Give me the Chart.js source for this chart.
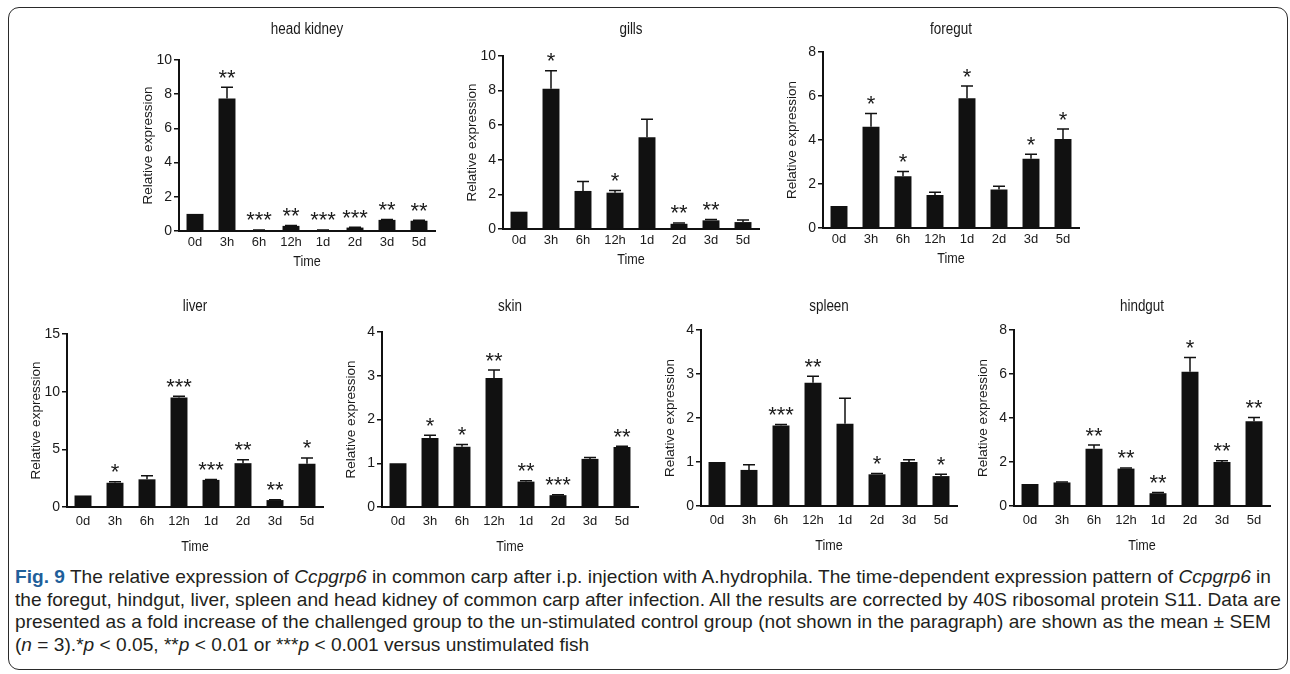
<!DOCTYPE html>
<html>
<head>
<meta charset="utf-8">
<script src="https://cdn.jsdelivr.net/npm/chart.js@4.4.1/dist/chart.umd.min.js"></script>
<style>
body{margin:0;background:#fff;width:1290px;height:674px;overflow:hidden;position:relative;font-family:"Liberation Sans",Arial,sans-serif}
#frame{position:absolute;left:8px;top:7px;width:1280px;height:663px;border:1.5px solid #2a2a2a;border-radius:11px;box-sizing:border-box}
.panel{position:absolute}
#cap{position:absolute;left:15px;top:566px;color:#231f20;font-size:19px;line-height:22.6px}
.ln{height:22.6px}
.ln span{display:inline-block;white-space:nowrap;transform-origin:0 0}
.fig{color:#1f5f9a;font-weight:bold}
</style>
</head>
<body>
<div id="frame"></div>

<div class="panel" id="p0"><canvas></canvas></div>
<div class="panel" id="p1"><canvas></canvas></div>
<div class="panel" id="p2"><canvas></canvas></div>
<div class="panel" id="p3"><canvas></canvas></div>
<div class="panel" id="p4"><canvas></canvas></div>
<div class="panel" id="p5"><canvas></canvas></div>
<div class="panel" id="p6"><canvas></canvas></div>

<div id="cap">
<div class="ln"><span><span class="fig">Fig. 9</span> The relative expression of <i>Ccpgrp6</i> in common carp after i.p. injection with A.hydrophila. The time-dependent expression pattern of <i>Ccpgrp6</i> in</span></div>
<div class="ln"><span>the foregut, hindgut, liver, spleen and head kidney of common carp after infection. All the results are corrected by 40S ribosomal protein S11. Data are</span></div>
<div class="ln"><span>presented as a fold increase of the challenged group to the un-stimulated control group (not shown in the paragraph) are shown as the mean ± SEM</span></div>
<div class="ln"><span>(<i>n</i> = 3).*<i>p</i> &lt; 0.05, **<i>p</i> &lt; 0.01 or ***<i>p</i> &lt; 0.001 versus unstimulated fish</span></div>
</div>

<script>
// time points (x categories)
const times = ['0d', '3h', '6h', '12h', '1d', '2d', '3d', '5d']

// head kidney
const headKidneyMean = [1.0, 7.75, 0.05, 0.3, 0.05, 0.2, 0.65, 0.6]
const headKidneySem  = [0, 0.65, 0.01, 0.02, 0.01, 0.02, 0.02, 0.03]
const headKidneySig  = ['', '**', '***', '**', '***', '***', '**', '**']

// gills
const gillsMean = [1.0, 8.1, 2.2, 2.1, 5.3, 0.3, 0.5, 0.4]
const gillsSem  = [0, 1.05, 0.55, 0.12, 1.05, 0.05, 0.05, 0.12]
const gillsSig  = ['', '*', '', '*', '', '**', '**', '']

// foregut
const foregutMean = [1.0, 4.6, 2.35, 1.5, 5.9, 1.75, 3.15, 4.05]
const foregutSem  = [0, 0.6, 0.22, 0.12, 0.55, 0.15, 0.2, 0.45]
const foregutSig  = ['', '*', '*', '', '*', '', '*', '*']

// liver
const liverMean = [1.0, 2.1, 2.4, 9.5, 2.35, 3.8, 0.6, 3.75]
const liverSem  = [0, 0.1, 0.3, 0.1, 0.03, 0.3, 0.03, 0.5]
const liverSig  = ['', '*', '', '***', '***', '**', '**', '*']

// skin
const skinMean = [1.0, 1.58, 1.38, 2.95, 0.58, 0.27, 1.1, 1.37]
const skinSem  = [0, 0.06, 0.05, 0.18, 0.02, 0.01, 0.03, 0.02]
const skinSig  = ['', '*', '*', '**', '**', '***', '', '**']

// spleen
const spleenMean = [1.0, 0.82, 1.83, 2.8, 1.87, 0.72, 1.0, 0.68]
const spleenSem  = [0, 0.12, 0.02, 0.15, 0.58, 0.02, 0.05, 0.04]
const spleenSig  = ['', '', '***', '**', '', '*', '', '*']

// hindgut
const hindgutMean = [1.0, 1.07, 2.6, 1.7, 0.58, 6.1, 2.0, 3.85]
const hindgutSem  = [0, 0.02, 0.17, 0.03, 0.03, 0.65, 0.06, 0.17]
const hindgutSig  = ['', '', '**', '**', '**', '*', '**', '**']

// y axis ranges
const yMax  = [10, 10, 8, 15, 4, 4, 8]
const yStep = [2, 2, 2, 5, 1, 1, 2]

const panels = [
    {title: 'head kidney', mean: headKidneyMean, sem: headKidneySem, sig: headKidneySig, axisX: 179, top: 60, bottom: 231, titleY: 30, row: 0},
    {title: 'gills', mean: gillsMean, sem: gillsSem, sig: gillsSig, axisX: 503, top: 56, bottom: 229, titleY: 30, row: 0},
    {title: 'foregut', mean: foregutMean, sem: foregutSem, sig: foregutSig, axisX: 823, top: 52, bottom: 228, titleY: 30, row: 0},
    {title: 'liver', mean: liverMean, sem: liverSem, sig: liverSig, axisX: 67, top: 334, bottom: 507, titleY: 307, row: 1},
    {title: 'skin', mean: skinMean, sem: skinSem, sig: skinSig, axisX: 382, top: 332, bottom: 507, titleY: 307, row: 1},
    {title: 'spleen', mean: spleenMean, sem: spleenSem, sig: spleenSig, axisX: 701, top: 330, bottom: 506, titleY: 307, row: 1},
    {title: 'hindgut', mean: hindgutMean, sem: hindgutSem, sig: hindgutSig, axisX: 1014, top: 330, bottom: 506, titleY: 307, row: 1}
]

const SANS = '"Liberation Sans", Arial, sans-serif'
const INK = '#111'
const TXT = '#1a1a1a'
const Y_W = 75
const PLOT_W = 256
const RIGHT_PAD = 12

// squeezed text, like the narrow type of the figure
function narrowText(ctx, txt, x, y, size) {
    ctx.save()
    ctx.translate(x, y)
    ctx.scale(0.84, 1)
    ctx.font = size + 'px ' + SANS
    ctx.fillText(txt, 0, 0)
    ctx.restore()
}

// error bars, stars, titles
const decor = {
    id: 'decor',
    afterDatasetsDraw(chart, args, o) {
        const ctx = chart.ctx
        const y = chart.scales.y
        const area = chart.chartArea
        const meta = chart.getDatasetMeta(0)
        ctx.save()
        ctx.strokeStyle = INK
        ctx.lineWidth = 1.5
        meta.data.forEach((bar, i) => {
            const yTop = y.getPixelForValue(o.mean[i])
            const yErr = y.getPixelForValue(o.mean[i] + o.sem[i])
            if (o.sem[i] > 0) {
                ctx.beginPath()
                ctx.moveTo(bar.x, yTop)
                ctx.lineTo(bar.x, yErr)
                ctx.moveTo(bar.x - 6, yErr)
                ctx.lineTo(bar.x + 6, yErr)
                ctx.stroke()
            }
            if (o.sig[i]) {
                ctx.fillStyle = TXT
                ctx.font = '22px ' + SANS
                ctx.textAlign = 'center'
                ctx.textBaseline = 'alphabetic'
                ctx.fillText(o.sig[i], bar.x, yErr - 15 + 12.5)
            }
        })
        ctx.fillStyle = TXT
        ctx.textAlign = 'center'
        ctx.textBaseline = 'middle'
        const cx = (area.left + area.right) / 2
        narrowText(ctx, o.title, cx, o.titleOff, 16)
        narrowText(ctx, 'Time', cx, area.bottom + o.timeOff, 15)
        ctx.translate(area.left - 31, (area.top + area.bottom) / 2)
        ctx.rotate(-Math.PI / 2)
        ctx.font = '13.5px ' + SANS
        ctx.fillText('Relative expression', 0, 0)
        ctx.restore()
    }
}

panels.forEach((p, k) => {
    const box = document.getElementById('p' + k)
    const boxTop = p.titleY - 14
    const xH = p.row === 0 ? 40 : 52
    const w = Y_W + PLOT_W + RIGHT_PAD
    const h = (p.bottom - boxTop) + xH
    box.style.left = (p.axisX - Y_W) + 'px'
    box.style.top = boxTop + 'px'
    box.style.width = w + 'px'
    box.style.height = h + 'px'

    new Chart(box.querySelector('canvas'), {
        type: 'bar',
        data: {
            labels: times,
            datasets: [{
                data: p.mean,
                backgroundColor: INK,
                borderWidth: 0,
                barPercentage: 0.53,
                categoryPercentage: 1
            }]
        },
        options: {
            responsive: true,
            maintainAspectRatio: false,
            animation: false,
            events: [],
            layout: {padding: {top: p.top - boxTop, right: RIGHT_PAD, bottom: 0, left: 0}},
            plugins: {
                legend: {display: false},
                tooltip: {enabled: false},
                decor: {mean: p.mean, sem: p.sem, sig: p.sig, title: p.title, titleOff: 14, timeOff: p.row === 0 ? 31 : 40}
            },
            scales: {
                x: {
                    offset: true,
                    grid: {display: false, drawTicks: false},
                    border: {display: true, color: INK, width: 2},
                    ticks: {
                        color: TXT,
                        font: {family: SANS, size: 13},
                        padding: p.row === 0 ? 4 : 7,
                        maxRotation: 0,
                        autoSkip: false
                    },
                    afterFit: s => { s.height = xH }
                },
                y: {
                    min: 0,
                    max: yMax[k],
                    grid: {drawOnChartArea: false, drawTicks: true, tickLength: 5, color: INK, lineWidth: 1.5},
                    border: {display: true, color: INK, width: 2},
                    ticks: {
                        stepSize: yStep[k],
                        color: TXT,
                        font: {family: SANS, size: 14},
                        padding: 2
                    },
                    afterFit: s => { s.width = Y_W }
                }
            }
        },
        plugins: [decor]
    })
})

// fit caption lines to the frame width
const spans = document.querySelectorAll('.ln > span')
const natural = spans[0].getBoundingClientRect().width
const sc = 1256 / natural
spans.forEach((s, i) => {
    if (i < 3) {
        s.style.width = (1256 / sc) + 'px'
        s.style.textAlign = 'justify'
        s.style.textAlignLast = 'justify'
    }
    s.style.transform = 'scaleX(' + sc + ')'
})
</script>
</body>
</html>
